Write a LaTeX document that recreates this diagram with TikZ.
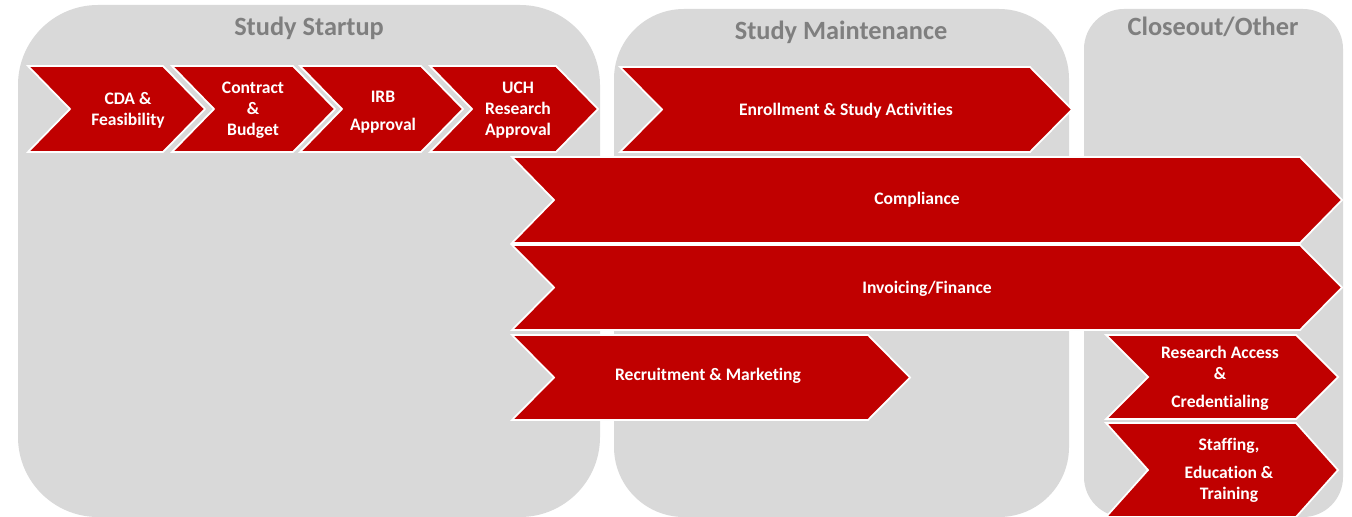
\documentclass[tikz,border=0pt]{standalone}
\usepackage{fontspec}
\setmainfont{Carlito}[Ligatures={NoCommon}]
\definecolor{chevred}{HTML}{C00000}
\definecolor{panelgray}{HTML}{D9D9D9}
\definecolor{titlegray}{HTML}{7F7F7F}
\tikzset{
  panel/.style={fill=panelgray},
  chevron/.style={fill=chevred, draw=white, line width=1pt, line join=miter},
  lbl/.style={text=white, align=center, inner sep=0pt, font=\fontsize{10}{12}\selectfont\bfseries},
  ttl/.style={text=titlegray, inner sep=0pt, font=\fontsize{15}{18}\selectfont\bfseries}
}
\newcommand{\chev}[4]{\draw[chevron] (#1,#2) -- (#3-42,#2) -- (#3,{(#2+#4)/2}) -- (#3-42,#4) -- (#1,#4) -- (#1+42,{(#2+#4)/2}) -- cycle;}
\begin{document}
\begin{tikzpicture}[x=0.02cm, y=-0.02cm]
            \useasboundingbox[fill=white] (0,0) rectangle (1352,517);
            \fill[panel, rounded corners=1.6cm] (18,5) rectangle (600,517);
            \fill[panel, rounded corners=1.4cm] (614,9) rectangle (1069,517);
            \fill[panel, rounded corners=0.8cm] (1084,9) rectangle (1343,517);
            \node[ttl] (startup) at (309,28) {Study Startup};
            \node[ttl] (maint) at (841,32) {Study Maintenance};
            \node[ttl] (closeout) at (1213,27) {Closeout/Other};
            \chev{28}{66}{205}{152}
            \chev{172}{66}{335}{152}
            \chev{300}{66}{463}{152}
            \chev{430}{66}{598}{152}
            \chev{620}{67}{1072}{152}
            \chev{512}{157}{1342}{243}
            \chev{512}{245}{1342}{330}
            \chev{512}{335}{910}{420}
            \chev{1106}{335}{1338}{419}
            \chev{1106}{423}{1338}{517}
            \node[lbl] (cda) at (128,110) {CDA \&\\Feasibility};
            \node[lbl] (contract) at (253,110) {Contract\\\&\\Budget};
            \node[lbl] (irb) at (383,112) {IRB\\[4pt]Approval};
            \node[lbl] (uch) at (518,110) {UCH\\Research\\Approval};
            \node[lbl] (enroll) at (846,111) {Enrollment \& Study Activities};
            \node[lbl] (compliance) at (917,200) {Compliance};
            \node[lbl] (invoicing) at (927,289) {Invoicing/Finance};
            \node[lbl] (recruit) at (708,376) {Recruitment \& Marketing};
            \node[lbl] (access) at (1220,378) {Research Access\\\&\\[4pt]Credentialing};
            \node[lbl] (staffing) at (1229,470) {Staffing,\\[4pt]Education \&\\Training};
        \end{tikzpicture}
\end{document}
